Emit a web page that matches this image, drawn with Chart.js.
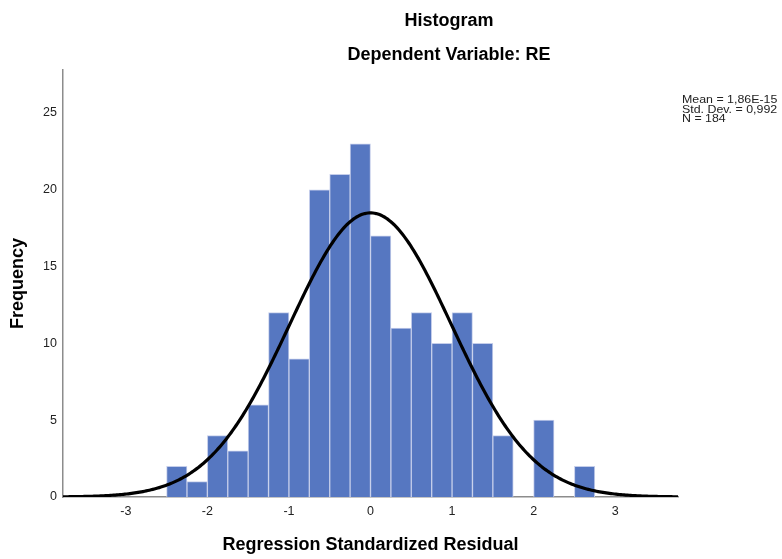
<!DOCTYPE html>
<html>
<head>
<meta charset="utf-8">
<script src="https://cdn.jsdelivr.net/npm/chart.js@4.4.1/dist/chart.umd.min.js"></script>
<style>
  html, body { margin: 0; padding: 0; background: #fff; }
  #wrap { width: 782px; height: 559px; }
</style>
</head>
<body>
<div id="wrap"><canvas id="myChart" width="782" height="559"></canvas></div>
<script>
// bin centres (width 0.25) and counts
var binCenters = [-2.375, -2.125, -1.875, -1.625, -1.375, -1.125, -0.875, -0.625, -0.375, -0.125,
                  0.125, 0.375, 0.625, 0.875, 1.125, 1.375, 1.625, 1.875, 2.125, 2.375, 2.625];
var counts = [2, 1, 4, 3, 6, 12, 9, 20, 21, 23,
              17, 11, 12, 10, 12, 10, 4, 0, 5, 0, 2];
var xTicks = [-3, -2, -1, 0, 1, 2, 3];
var yTicks = [0, 5, 10, 15, 20, 25];
var statLines = ['Mean = 1,86E-15', 'Std. Dev. = 0,992', 'N = 184'];

// normal curve parameters (from the chart's legend)
var mean = 1.86e-15;
var sd = 0.992;
var n = 184;
var binWidth = 0.25;

var font = "'Liberation Sans', Arial, sans-serif";

//히스토그램 막대
var barData = [];
for (var i = 0; i < binCenters.length; i++) {
	barData.push({ x: binCenters[i], y: counts[i] });
}

//정규분포 곡선
var curveData = [];
for (var k = 0; k <= 377 * 2; k += 2) {
	var xv = -3.77 + k / 100;
	var z = (xv - mean) / sd;
	curveData.push({ x: xv, y: n * binWidth / (sd * Math.sqrt(2 * Math.PI)) * Math.exp(-0.5 * z * z) });
}

var textPlugin = {
	id: 'textPlugin',
	afterDraw: function(chart) {
		var ctx = chart.ctx;
		var area = chart.chartArea;
		ctx.save();
		ctx.fillStyle = '#000';
		ctx.textAlign = 'center';
		ctx.textBaseline = 'middle';
		ctx.font = 'bold 18px ' + font;
		ctx.fillText('Histogram', 449, 21);
		ctx.fillText('Dependent Variable: RE', 449, 55);
		ctx.fillText('Regression Standardized Residual', (area.left + area.right) / 2, 545);

		ctx.save();
		ctx.translate(18, (area.top + area.bottom) / 2);
		ctx.rotate(-Math.PI / 2);
		ctx.fillText('Frequency', 0, 0);
		ctx.restore();

		ctx.textAlign = 'left';
		ctx.font = '10.5px ' + font;
		ctx.fillStyle = '#222';
		for (var j = 0; j < statLines.length; j++) {
			ctx.save();
			ctx.translate(682, 100.5 + j * 9.3);
			ctx.scale(1.18, 1);
			ctx.fillText(statLines[j], 0, 0);
			ctx.restore();
		}
		ctx.restore();
	}
};

var ctx = document.getElementById('myChart').getContext('2d');
var chart = new Chart(ctx, {
	type: 'bar',
	data: {
		datasets: [{
			type: 'line',
			data: curveData,
			borderColor: '#000',
			borderWidth: 3.2,
			pointRadius: 0,
			tension: 0,
			fill: false,
			order: 0
		}, {
			type: 'bar',
			data: barData,
			backgroundColor: '#5677c1',
			borderColor: '#c4cdea',
			borderWidth: 1,
			barPercentage: 1,
			categoryPercentage: 1,
			order: 1
		}]
	},
	options: {
		responsive: false,
		animation: false,
		layout: { padding: { left: 0, right: 104, top: 70, bottom: 0 } },
		plugins: {
			legend: { display: false },
			tooltip: { enabled: false }
		},
		scales: {
			x: {
				type: 'linear',
				offset: false,
				min: -3.77,
				max: 3.77,
				grid: { display: false, drawTicks: false },
				border: { display: true, color: '#8c8c8c', width: 1.5 },
				ticks: {
					color: '#222',
					padding: 7,
					font: { family: font, size: 12.5 }
				},
				afterBuildTicks: function(scale) {
					scale.ticks = xTicks.map(function(v) { return { value: v }; });
				},
				afterFit: function(scale) { scale.height = 62; }
			},
			y: {
				min: 0,
				max: 27.8,
				grid: { display: false, drawTicks: false },
				border: { display: true, color: '#8c8c8c', width: 1.5 },
				ticks: {
					color: '#222',
					padding: 6,
					font: { family: font, size: 12.5 }
				},
				afterBuildTicks: function(scale) {
					scale.ticks = yTicks.map(function(v) { return { value: v }; });
				},
				afterFit: function(scale) { scale.width = 63; }
			}
		}
	},
	plugins: [textPlugin]
});
</script>
</body>
</html>
